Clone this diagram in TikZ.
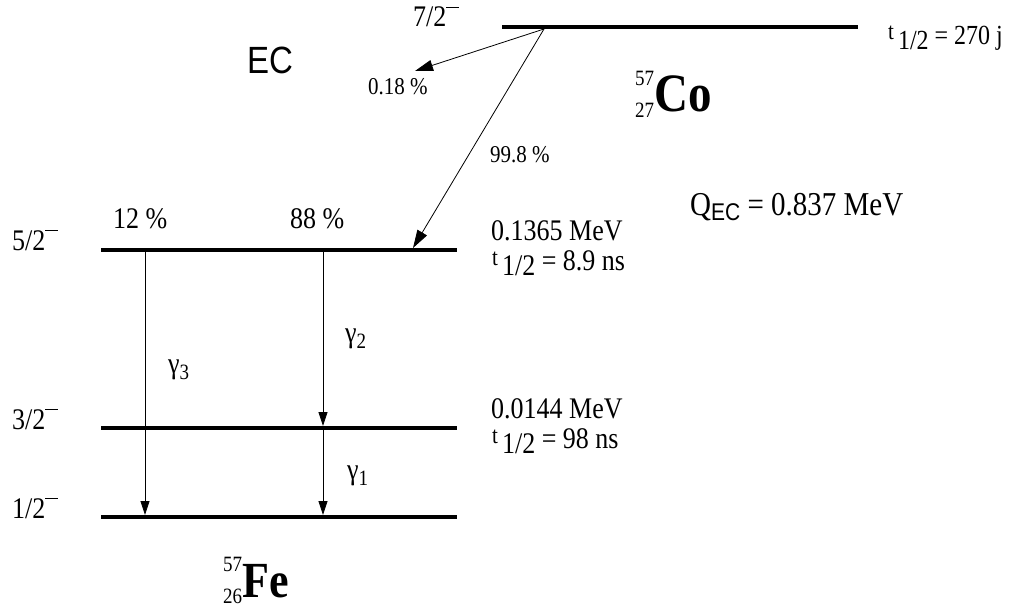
\documentclass[tikz,border=0pt]{standalone}
\usepackage{fontspec}
\setmainfont{Liberation Serif}
\newfontfamily\helv{Liberation Sans}
\usetikzlibrary{arrows.meta}
\newcommand{\vst}[1]{\scalebox{1}[1.15]{#1}}
\newcommand{\fs}[1]{\fontsize{#1}{#1}\selectfont}
\newcommand{\spinbar}{\rule[0.64em]{0.5em}{0.045em}}
\newcommand{\thalf}{{\fs{21}\raisebox{4pt}{t}}\hspace{4pt}\raisebox{-5pt}{1/2}}
\newcommand{\nucl}[3]{\makebox[0pt][l]{\raisebox{22pt}{\fs{19}#1}}\raisebox{-6pt}{\fs{19}#2}\textbf{#3}}
\begin{document}
\begin{tikzpicture}[x=1pt,y=-1pt,
  level/.style={line width=4pt},
  trans/.style={line width=0.8pt,-{Stealth[length=14pt,width=9pt,inset=0pt]}},
  ectrans/.style={line width=0.8pt,-{Stealth[length=18pt,width=11pt,inset=0pt]}},
  lbl/.style={inner sep=0pt,anchor=base west,font=\fs{26}},
  small/.style={inner sep=0pt,anchor=base west,font=\fs{21}}]
\useasboundingbox (0,0) rectangle (1029,613);
% levels
\coordinate (coL) at (502,27); \coordinate (coR) at (858,27);
\coordinate (l5L) at (101,250); \coordinate (l5R) at (457,250);
\coordinate (l3L) at (101,428); \coordinate (l3R) at (457,428);
\coordinate (l1L) at (101,517); \coordinate (l1R) at (457,517);
\draw[level] (coL) -- (coR);
\draw[level] (l5L) -- (l5R);
\draw[level] (l3L) -- (l3R);
\draw[level] (l1L) -- (l1R);
% EC transitions
\coordinate (ecS) at (544,29);
\coordinate (ecA) at (415,71);
\coordinate (ecB) at (413,248);
\draw[ectrans] (ecS) -- (ecA);
\draw[ectrans] (ecS) -- (ecB);
% gamma transitions
\coordinate (g3S) at (145,252); \coordinate (g3E) at (145,515);
\coordinate (g2S) at (323,252); \coordinate (g2E) at (323,426);
\coordinate (g1S) at (323,430); \coordinate (g1E) at (323,515);
\draw[trans] (g3S) -- (g3E);
\draw[trans] (g2S) -- (g2E);
\draw[trans] (g1S) -- (g1E);
% labels
\node[lbl] (s7) at (413,27) {\vst{7/2\spinbar}};
\node[lbl] (s5) at (12,250) {\vst{5/2\spinbar}};
\node[lbl] (s3) at (12,429) {\vst{3/2\spinbar}};
\node[lbl] (s1) at (12,518) {\vst{1/2\spinbar}};
\node[inner sep=0pt,anchor=base west] (ec) at (247,73) {\vst{\helv\fs{33}EC}};
\node[small] (p018) at (368,94) {\vst{0.18 \%}};
\node[small] (p998) at (490,162) {\vst{99.8 \%}};
\node[lbl] (p12) at (113,228) {\vst{12 \%}};
\node[lbl] (p88) at (290,228) {\vst{88 \%}};
\node[lbl,font=\fs{24}] (tco) at (888,44) {\vst{\thalf\ = 270 j}};
\node[inner sep=0pt,anchor=base west,font=\fs{47}] (co) at (635,111) {\vst{\nucl{57}{27}{Co}}};
\node[inner sep=0pt,anchor=base west,font=\fs{44}] (fe) at (223,597) {\vst{\nucl{57}{26}{Fe}}};
\node[inner sep=0pt,anchor=base west,font=\fs{29}] (q) at (690,215) {\vst{Q\raisebox{-5pt}{\helv\fs{21}EC} = 0.837 MeV}};
\node[lbl] (e136) at (491,240) {\vst{0.1365 MeV}};
\node[lbl] (t136) at (492,270) {\vst{\thalf\ = 8.9 ns}};
\node[lbl] (e144) at (491,418) {\vst{0.0144 MeV}};
\node[lbl] (t144) at (492,448) {\vst{\thalf\ = 98 ns}};
\node[lbl] (g3) at (168,373) {\vst{γ\raisebox{-6pt}{\fs{19}3}}};
\node[lbl] (g2) at (345,342) {\vst{γ\raisebox{-6pt}{\fs{19}2}}};
\node[lbl] (g1) at (347,479) {\vst{γ\raisebox{-6pt}{\fs{19}1}}};
\end{tikzpicture}
\end{document}
